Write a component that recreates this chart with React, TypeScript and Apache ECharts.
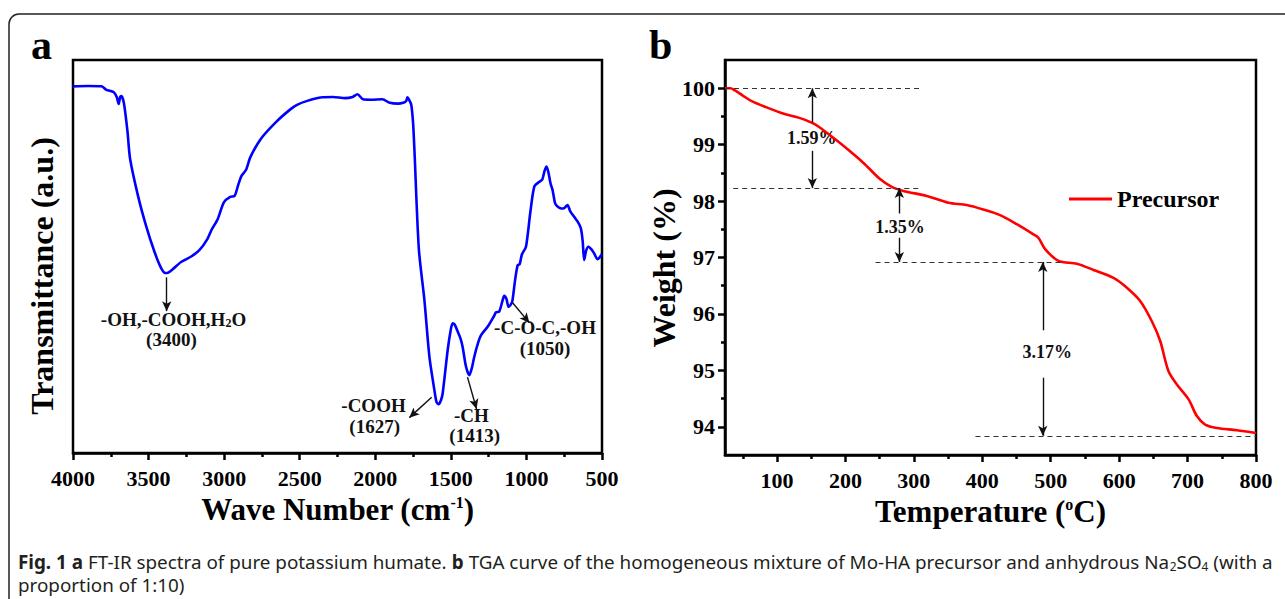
import React, { useEffect, useRef } from 'react';
import * as echarts from 'echarts';

// ---- Panel a: FT-IR spectrum (wavenumber cm-1, relative transmittance 0-100) ----
const irWavenumber = [
  4000, 3900, 3811, 3779, 3730, 3710, 3698, 3688, 3680, 3663, 3640, 3622, 3569, 3515, 3461, 3420,
  3390, 3370, 3339, 3285, 3218, 3164, 3110, 3083, 3043, 3002, 2960, 2931, 2907, 2885, 2856, 2825,
  2754, 2652, 2560, 2518, 2450, 2353, 2280, 2200, 2150, 2118, 2081, 2030, 1953, 1904, 1850, 1810,
  1795, 1788, 1775, 1762, 1750, 1741, 1712, 1675, 1642, 1609, 1595, 1581, 1565, 1554, 1521, 1500,
  1488, 1475, 1455, 1435, 1422, 1400, 1378, 1360, 1345, 1320, 1300, 1257, 1215, 1201, 1180, 1160,
  1147, 1132, 1118, 1100, 1092, 1075, 1058, 1045, 1030, 1003, 975, 948, 915, 895, 880, 867,
  855, 840, 827, 810, 794, 770, 750, 738, 728, 710, 684, 660, 640, 628, 618, 605,
  590, 570, 552, 530, 515, 505, 500,
];
const irTransmittance = [
  93.3, 93.4, 93.3, 92.4, 91.8, 90.5, 88.8, 90.6, 90.8, 89.0, 82.0, 74.8, 65.3, 57.6, 51.2, 47.3,
  45.8, 45.9, 46.8, 48.6, 50.0, 51.6, 54.5, 56.8, 59.5, 63.8, 65.2, 65.4, 68.2, 70.5, 72.0, 75.4,
  80.1, 84.4, 87.5, 88.6, 89.6, 90.5, 90.6, 90.3, 90.6, 91.3, 90.0, 89.9, 90.0, 89.1, 88.9, 89.2,
  89.6, 90.5, 89.8, 88.6, 84.0, 77.1, 52.0, 38.9, 24.5, 16.0, 13.0, 12.4, 13.5, 15.2, 26.2, 31.5,
  33.0, 32.7, 30.9, 29.0, 27.0, 22.0, 19.8, 21.8, 24.5, 28.0, 30.0, 32.1, 34.8, 35.8, 36.0, 38.5,
  40.0, 39.2, 37.2, 38.0, 38.9, 44.0, 47.8, 48.0, 50.5, 52.5, 61.0, 67.8, 69.0, 69.6, 71.8, 72.9,
  71.5, 68.5, 66.9, 63.5, 62.7, 62.2, 62.3, 62.8, 63.1, 61.5, 60.1, 58.8, 57.2, 54.0, 49.1, 51.5,
  52.5, 51.8, 50.8, 49.3, 49.8, 50.4, 50.6,
];
const irTicks = [4000, 3500, 3000, 2500, 2000, 1500, 1000, 500];

// ---- Panel b: TGA curve ----
const tgaTemperature = [
  24, 32, 38.6, 50, 63, 85, 109, 133.6, 155.6, 172.7, 197, 226, 250.6, 267.7, 284.6, 318.9,
  350.4, 377.3, 401.6, 426, 450.4, 474.7, 482, 491.8, 511.3, 538.2, 562.5, 591.7, 608.8, 630.7,
  647.8, 660, 672, 684.4, 701.3, 713.6, 725.7, 742.8, 772, 800,
];
const tgaWeight = [
  100, 100.0, 99.96, 99.87, 99.77, 99.66, 99.55, 99.47, 99.36, 99.21, 98.98, 98.68, 98.39, 98.25,
  98.18, 98.09, 97.97, 97.93, 97.85, 97.75, 97.59, 97.41, 97.35, 97.15, 96.94, 96.89, 96.78, 96.64,
  96.49, 96.23, 95.87, 95.52, 94.99, 94.75, 94.49, 94.19, 94.04, 93.98, 93.94, 93.89,
];
const tgaXLabels = [100, 200, 300, 400, 500, 600, 700, 800];
const tgaXMinor = [50, 150, 250, 350, 450, 550, 650, 750];
const tgaYLabels = [94, 95, 96, 97, 98, 99, 100];
const tgaYMinor = [94.5, 95.5, 96.5, 97.5, 98.5, 99.5];

// step levels (dashed) and step arrows of the TGA panel
const tgaLevels = [
  { y: 100, from: 24, to: 311 },
  { y: 98.23, from: 36, to: 307 },
  { y: 96.92, from: 244, to: 520 },
  { y: 93.84, from: 390, to: 800 },
];
// [x, tailY, headY]
const tgaArrows = [
  [151.6, 99.39, 100],
  [151.6, 98.89, 98.23],
  [278.8, 97.78, 98.23],
  [278.8, 97.35, 96.92],
  [488.4, 95.71, 96.92],
  [488.4, 94.87, 93.84],
];
const tgaStepLabels = ['1.59%', '1.35%', '3.17%'];

// IR band arrows: [tailX, tailY, headX, headY]
const irArrows = [
  [3380, 44.7, 3380, 36.1],
  [1627, 14.2, 1775, 9.0],
  [1390, 19.3, 1330, 11.2],
  [1093, 38.3, 980, 33.1],
];

const serif = "'Liberation Serif', serif";
const sans = "'Noto Sans', 'Open Sans', sans-serif";

export default function App() {
  const ref = useRef<HTMLDivElement>(null);

  useEffect(() => {
    if (!ref.current) return;
    const chart = echarts.init(ref.current, undefined, { renderer: 'svg' });

    // caption width fitting
    const ctx = document.createElement('canvas').getContext('2d')!;
    const capSize = 19;
    const subSize = 12;
    const segs: [string, string][] = [
      [`bold ${capSize}px ${sans}`, 'Fig. 1 a'],
      [`${capSize}px ${sans}`, ' FT-IR spectra of pure potassium humate. '],
      [`bold ${capSize}px ${sans}`, 'b'],
      [`${capSize}px ${sans}`, ' TGA curve of the homogeneous mixture of Mo-HA precursor and anhydrous Na'],
      [`${subSize}px ${sans}`, '2'],
      [`${capSize}px ${sans}`, 'SO'],
      [`${subSize}px ${sans}`, '4'],
      [`${capSize}px ${sans}`, ' (with a'],
    ];
    let w = 0;
    segs.forEach(([f, t]) => { ctx.font = f; w += ctx.measureText(t).width; });
    const capScale = w > 0 ? 1254 / w : 1;

    const capRich = {
      b: { fontFamily: sans, fontSize: capSize, fontWeight: 'bold', fill: '#231f20' },
      s: { fontFamily: sans, fontSize: subSize, fill: '#231f20', padding: [9, 0, 0, 0] },
    };

    const annot = (text: string, x: number, y: number, size = 19) => ({
      type: 'text', x, y, silent: true,
      style: {
        text, fill: '#111', align: 'center', verticalAlign: 'middle',
        fontFamily: serif, fontWeight: 'bold', fontSize: size,
        rich: { s: { fontFamily: serif, fontWeight: 'bold', fontSize: 12, fill: '#111', padding: [7, 0, 0, 0] } },
      },
    });

    const tickStyle = { color: '#000', width: 2.5 };
    const labelStyle = {
      color: '#000', fontFamily: serif, fontWeight: 'bold', fontSize: 22,
      formatter: (v: number) => String(v),
    };
    const nameRich = {
      t: { fontFamily: serif, fontWeight: 'bold', fontSize: 31, color: '#000' },
      s: { fontFamily: serif, fontWeight: 'bold', fontSize: 16, color: '#000', padding: [0, 0, 14, 0] },
    };

    const option: any = {
      animation: false,
      backgroundColor: '#fff',
      textStyle: { fontFamily: serif },
      grid: [
        { left: 73, top: 60, width: 529, height: 393, show: true, borderColor: '#000', borderWidth: 2.5, backgroundColor: 'transparent' },
        { left: 725, top: 60, width: 531, height: 395, show: true, borderColor: '#000', borderWidth: 2.5, backgroundColor: 'transparent' },
      ],
      legend: {
        data: ['Precursor'], left: 1064, top: 182, icon: 'rect', itemWidth: 43, itemHeight: 3,
        textStyle: { fontFamily: serif, fontWeight: 'bold', fontSize: 24, color: '#000', padding: [0, 0, 0, 0] },
      },
      xAxis: [
        {
          gridIndex: 0, type: 'value', min: 500, max: 4000, interval: 500, inverse: true,
          axisLine: { show: true, lineStyle: tickStyle },
          axisTick: { show: true, length: 7, lineStyle: tickStyle, customValues: irTicks },
          minorTick: { show: true, splitNumber: 2, length: 4, lineStyle: tickStyle },
          splitLine: { show: false }, minorSplitLine: { show: false },
          axisLabel: { ...labelStyle, margin: 14, customValues: irTicks },
          name: '{t|Wave Number (cm}{s|-1}{t|)}', nameLocation: 'middle', nameGap: 40,
          nameTextStyle: { rich: nameRich },
        },
        {
          gridIndex: 1, type: 'value', min: 24, max: 800,
          axisLine: { show: true, lineStyle: tickStyle },
          axisTick: { show: true, length: 7, lineStyle: tickStyle, customValues: tgaXLabels },
          splitLine: { show: false },
          axisLabel: { ...labelStyle, margin: 14, customValues: tgaXLabels },
          name: '{t|Temperature (}{s|o}{t|C)}', nameLocation: 'middle', nameGap: 40,
          nameTextStyle: { rich: nameRich },
        },
        {
          gridIndex: 1, type: 'value', min: 24, max: 800, position: 'bottom',
          axisLine: { show: false },
          axisTick: { show: true, length: 4, lineStyle: tickStyle, customValues: tgaXMinor },
          splitLine: { show: false },
          axisLabel: { show: false },
        },
      ],
      yAxis: [
        {
          gridIndex: 0, type: 'value', min: 0, max: 100,
          axisLine: { show: false }, axisTick: { show: false }, axisLabel: { show: false }, splitLine: { show: false },
        },
        {
          gridIndex: 1, type: 'value', min: 93.5, max: 100.5,
          axisLine: { show: true, lineStyle: tickStyle },
          axisTick: { show: true, length: 7, lineStyle: tickStyle, customValues: tgaYLabels },
          splitLine: { show: false },
          axisLabel: { ...labelStyle, margin: 10, customValues: tgaYLabels },
        },
        {
          gridIndex: 1, type: 'value', min: 93.5, max: 100.5, position: 'left',
          axisLine: { show: false },
          axisTick: { show: true, length: 4, lineStyle: tickStyle, customValues: tgaYMinor },
          splitLine: { show: false },
          axisLabel: { show: false },
        },
      ],
      series: [
        {
          type: 'line', xAxisIndex: 0, yAxisIndex: 0, showSymbol: false, smooth: 0.25,
          data: irWavenumber.map((x, i) => [x, irTransmittance[i]]),
          lineStyle: { color: '#0000ff', width: 2.6 }, itemStyle: { color: '#0000ff' },
          markLine: {
            silent: true, symbol: ['none', 'arrow'], symbolSize: [7, 10], label: { show: false },
            lineStyle: { color: '#111', width: 1.4, type: 'solid' },
            data: irArrows.map(([x1, y1, x2, y2]) => [{ coord: [x1, y1] }, { coord: [x2, y2] }]),
          },
        },
        {
          name: 'Precursor', type: 'line', xAxisIndex: 1, yAxisIndex: 1, showSymbol: false, smooth: 0.3,
          data: tgaTemperature.map((x, i) => [x, tgaWeight[i]]),
          lineStyle: { color: '#ff0000', width: 2.6 }, itemStyle: { color: '#ff0000' },
          markLine: {
            silent: true, symbol: ['none', 'arrow'], symbolSize: [7, 10], label: { show: false },
            lineStyle: { color: '#111', width: 1.4, type: 'solid' },
            data: [
              ...tgaLevels.map((l) => [
                { coord: [l.from, l.y], symbol: 'none', lineStyle: { color: '#333', width: 1.2, type: [5, 4] } },
                { coord: [l.to, l.y], symbol: 'none', lineStyle: { color: '#333', width: 1.2, type: [5, 4] } },
              ]),
              ...tgaArrows.map(([x, y1, y2]) => [{ coord: [x, y1] }, { coord: [x, y2] }]),
            ],
          },
        },
      ],
      graphic: [
        {
          type: 'rect', z: -10, silent: true,
          shape: { x: 9, y: 14, width: 1400, height: 800, r: 10 },
          style: { fill: 'none', stroke: '#222', lineWidth: 1.5 },
        },
        { type: 'text', x: 31, y: 66, silent: true, style: { text: 'a', fill: '#000', fontFamily: serif, fontWeight: 'bold', fontSize: 42, align: 'left', verticalAlign: 'bottom' } },
        { type: 'text', x: 649, y: 66, silent: true, style: { text: 'b', fill: '#000', fontFamily: serif, fontWeight: 'bold', fontSize: 42, align: 'left', verticalAlign: 'bottom' } },
        {
          type: 'text', x: 42, y: 276, rotation: Math.PI / 2, silent: true,
          style: { text: 'Transmittance (a.u.)', fill: '#000', fontFamily: serif, fontWeight: 'bold', fontSize: 32, align: 'center', verticalAlign: 'middle' },
        },
        {
          type: 'text', x: 664, y: 268, rotation: Math.PI / 2, silent: true,
          style: { text: 'Weight (%)', fill: '#000', fontFamily: serif, fontWeight: 'bold', fontSize: 32, align: 'center', verticalAlign: 'middle' },
        },
        annot('-OH,-COOH,H{s|2}O', 173.5, 319),
        annot('(3400)', 171.4, 339.5),
        annot('-COOH', 373.5, 405.4),
        annot('(1627)', 374.7, 426.4),
        annot('-CH', 471.4, 415.5),
        annot('(1413)', 474.7, 435.8),
        annot('-C-O-C,-OH', 545, 327.7),
        annot('(1050)', 545, 348),
        annot(tgaStepLabels[0], 811.7, 138.3, 18),
        annot(tgaStepLabels[1], 900, 226.7, 18),
        annot(tgaStepLabels[2], 1047.3, 351.7, 18),
        {
          type: 'text', x: 18, y: 562, scaleX: capScale, silent: true,
          style: {
            text: '{b|Fig. 1 a} FT-IR spectra of pure potassium humate. {b|b} TGA curve of the homogeneous mixture of Mo-HA precursor and anhydrous Na{s|2}SO{s|4} (with a',
            fill: '#231f20', fontFamily: sans, fontSize: capSize, align: 'left', verticalAlign: 'middle', rich: capRich,
          },
        },
        {
          type: 'text', x: 18, y: 585, scaleX: capScale, silent: true,
          style: { text: 'proportion of 1:10)', fill: '#231f20', fontFamily: sans, fontSize: capSize, align: 'left', verticalAlign: 'middle' },
        },
      ],
    };
    chart.setOption(option);
    return () => chart.dispose();
  }, []);

  return <div ref={ref} style={{ position: 'absolute', left: 0, top: 0, width: 1285, height: 599 }} />;
}
